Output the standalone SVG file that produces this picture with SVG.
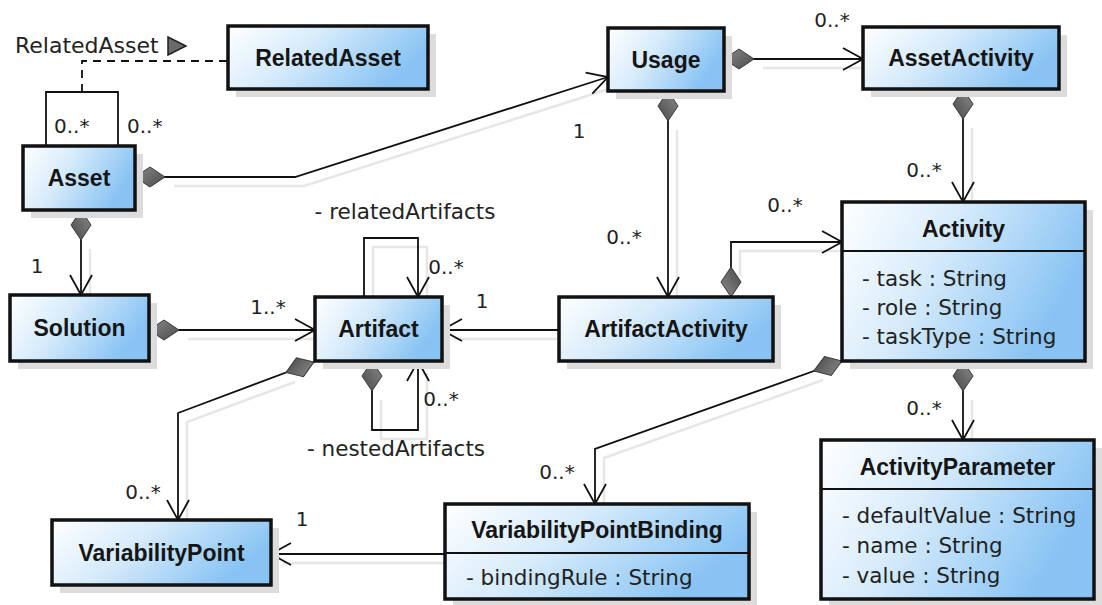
<svg xmlns="http://www.w3.org/2000/svg" width="1102" height="605" viewBox="0 0 1102 605">
<style>
.box{stroke:#111;stroke-width:3.5;fill:url(#bg)}
.shadow{fill:#dcdcdc;stroke:none}
.div{stroke:#111;stroke-width:2}
.title{font-family:"Liberation Sans",Arial,sans-serif;font-weight:bold;font-size:23px;fill:#151515;text-anchor:middle}
.attr{font-family:"DejaVu Sans","Liberation Sans",sans-serif;font-size:21.5px;fill:#222}
.lbl{font-family:"DejaVu Sans","Liberation Sans",sans-serif;font-size:20px;fill:#222}
.mid{text-anchor:middle}
.conn{fill:none;stroke:#111;stroke-width:1.8}
.cshadow{fill:none;stroke:#e6e6e6;stroke-width:2.5}
.dash{stroke-dasharray:8,6}
</style>
<defs>
<linearGradient id="bg" x1="0" y1="0" x2="1" y2="0.35">
<stop offset="0" stop-color="#ffffff"/>
<stop offset="0.45" stop-color="#d6ebfb"/>
<stop offset="1" stop-color="#88c3f3"/>
</linearGradient>
<linearGradient id="dg" x1="0" y1="0" x2="1" y2="1">
<stop offset="0" stop-color="#8a8a8a"/>
<stop offset="1" stop-color="#4a4a4a"/>
</linearGradient>
<marker id="arrow" markerUnits="userSpaceOnUse" markerWidth="26" markerHeight="28" viewBox="-23 -14 26 28" refX="0" refY="0" orient="auto">
<path d="M-20,-11 L0,0 L-20,11" fill="none" stroke="#111" stroke-width="1.8"/>
</marker>
<marker id="diamond" markerUnits="userSpaceOnUse" markerWidth="34" markerHeight="24" viewBox="-2 -12 34 24" refX="0" refY="0" orient="auto">
<path d="M0,0 L15,-10 L30,0 L15,10 Z" fill="url(#dg)" stroke="#3a3a3a" stroke-width="1"/>
</marker>
</defs>
<rect width="1102" height="605" fill="#ffffff"/>

<g id="connector-shadows" transform="translate(9,9)">
<path class="cshadow" d="M165,177 L295,177 L600,80"/>
<path class="cshadow" d="M754,59 L860,59"/>
<path class="cshadow" d="M668,121 L668,294"/>
<path class="cshadow" d="M963,119 L963,199"/>
<path class="cshadow" d="M81,240 L81,292"/>
<path class="cshadow" d="M179,330 L312,330"/>
<path class="cshadow" d="M364,294 L364,238 L418,238 L418,294"/>
<path class="cshadow" d="M372,391 L372,430 L418,430 L418,364"/>
<path class="cshadow" d="M556,330 L445,330"/>
<path class="cshadow" d="M731,267 L731,242 L839,242"/>
<path class="cshadow" d="M963,391 L963,437"/>
<path class="cshadow" d="M286,373 L178,413 L178,517"/>
<path class="cshadow" d="M814,371 L595,449 L595,501"/>
<path class="cshadow" d="M442,554 L274,554"/>
</g>

<g id="connectors">
<path class="conn" d="M46,146 L46,92 L118,92 L118,146"/>
<path class="conn dash" d="M82,92 L82,61 L228,61"/>
<path class="conn" d="M135,177 L295,177 L608,77" marker-start="url(#diamond)" marker-end="url(#arrow)"/>
<path class="conn" d="M724,59 L863,59" marker-start="url(#diamond)" marker-end="url(#arrow)"/>
<path class="conn" d="M668,91 L668,297" marker-start="url(#diamond)" marker-end="url(#arrow)"/>
<path class="conn" d="M963,89 L963,202" marker-start="url(#diamond)" marker-end="url(#arrow)"/>
<path class="conn" d="M81,210 L81,295" marker-start="url(#diamond)" marker-end="url(#arrow)"/>
<path class="conn" d="M149,330 L315,330" marker-start="url(#diamond)" marker-end="url(#arrow)"/>
<path class="conn" d="M364,297 L364,238 L418,238 L418,297" marker-end="url(#arrow)"/>
<path class="conn" d="M372,361 L372,430 L418,430 L418,361" marker-start="url(#diamond)" marker-end="url(#arrow)"/>
<path class="conn" d="M559,330 L442,330" marker-end="url(#arrow)"/>
<path class="conn" d="M731,297 L731,242 L842,242" marker-start="url(#diamond)" marker-end="url(#arrow)"/>
<path class="conn" d="M963,361 L963,440" marker-start="url(#diamond)" marker-end="url(#arrow)"/>
<path class="conn" d="M314,362 L178,413 L178,520" marker-start="url(#diamond)" marker-end="url(#arrow)"/>
<path class="conn" d="M842,361 L595,449 L595,504" marker-start="url(#diamond)" marker-end="url(#arrow)"/>
<path class="conn" d="M445,554 L271,554" marker-end="url(#arrow)"/>
<path d="M168,37 L168,55 L186,46 Z" fill="#6a6a6a" stroke="#222" stroke-width="1.5"/>
</g>

<g id="labels">
<text class="lbl" x="15" y="53" style="font-size:22px">RelatedAsset</text>
<text class="lbl" x="54" y="133">0..*</text>
<text class="lbl" x="127" y="133">0..*</text>
<text class="lbl mid" x="579" y="138">1</text>
<text class="lbl mid" x="832" y="27">0..*</text>
<text class="lbl mid" x="924" y="177">0..*</text>
<text class="lbl mid" x="624" y="244">0..*</text>
<text class="lbl mid" x="785" y="212">0..*</text>
<text class="lbl mid" x="37" y="273">1</text>
<text class="lbl mid" x="268" y="314">1..*</text>
<text class="attr mid" x="405" y="219">- relatedArtifacts</text>
<text class="lbl mid" x="446" y="274">0..*</text>
<text class="lbl mid" x="482" y="308">1</text>
<text class="lbl mid" x="441" y="406">0..*</text>
<text class="attr mid" x="396" y="456">- nestedArtifacts</text>
<text class="lbl mid" x="143" y="499">0..*</text>
<text class="lbl mid" x="302" y="526">1</text>
<text class="lbl mid" x="557" y="479">0..*</text>
<text class="lbl mid" x="924" y="415">0..*</text>
</g>

<g id="RelatedAsset">
<rect class="shadow" x="236" y="34" width="200" height="63"/>
<rect class="box" x="228" y="26" width="200" height="63"/>
<text class="title" x="328" y="66">RelatedAsset</text>
</g>
<g id="Asset">
<rect class="shadow" x="31" y="154" width="112" height="64"/>
<rect class="box" x="23" y="146" width="112" height="64"/>
<text class="title" x="79" y="186">Asset</text>
</g>
<g id="Usage">
<rect class="shadow" x="616" y="36" width="116" height="63"/>
<rect class="box" x="608" y="28" width="116" height="63"/>
<text class="title" x="666" y="68">Usage</text>
</g>
<g id="AssetActivity">
<rect class="shadow" x="871" y="35" width="196" height="62"/>
<rect class="box" x="863" y="27" width="196" height="62"/>
<text class="title" x="961" y="66">AssetActivity</text>
</g>
<g id="Solution">
<rect class="shadow" x="18" y="303" width="139" height="66"/>
<rect class="box" x="10" y="295" width="139" height="66"/>
<text class="title" x="79.5" y="336">Solution</text>
</g>
<g id="Artifact">
<rect class="shadow" x="323" y="305" width="127" height="64"/>
<rect class="box" x="315" y="297" width="127" height="64"/>
<text class="title" x="378.5" y="337">Artifact</text>
</g>
<g id="ArtifactActivity">
<rect class="shadow" x="567" y="305" width="214" height="64"/>
<rect class="box" x="559" y="297" width="214" height="64"/>
<text class="title" x="666" y="337">ArtifactActivity</text>
</g>
<g id="Activity">
<rect class="shadow" x="850" y="210" width="243" height="159"/>
<rect class="box" x="842" y="202" width="243" height="159"/>
<line class="div" x1="842" y1="251" x2="1085" y2="251"/>
<text class="title" x="963.5" y="237">Activity</text>
<text class="attr" x="862" y="286">- task : String</text>
<text class="attr" x="862" y="315">- role : String</text>
<text class="attr" x="862" y="344">- taskType : String</text>
</g>
<g id="VariabilityPoint">
<rect class="shadow" x="60" y="528" width="219" height="65"/>
<rect class="box" x="52" y="520" width="219" height="65"/>
<text class="title" x="161.5" y="561">VariabilityPoint</text>
</g>
<g id="VariabilityPointBinding">
<rect class="shadow" x="453" y="512" width="304" height="93"/>
<rect class="box" x="445" y="504" width="304" height="95"/>
<line class="div" x1="445" y1="553" x2="749" y2="553"/>
<text class="title" x="597" y="538">VariabilityPointBinding</text>
<text class="attr" x="466" y="585">- bindingRule : String</text>
</g>
<g id="ActivityParameter">
<rect class="shadow" x="829" y="448" width="273" height="157"/>
<rect class="box" x="821" y="440" width="273" height="159"/>
<line class="div" x1="821" y1="489" x2="1094" y2="489"/>
<text class="title" x="957.5" y="475">ActivityParameter</text>
<text class="attr" x="842" y="523">- defaultValue : String</text>
<text class="attr" x="842" y="553">- name : String</text>
<text class="attr" x="842" y="583">- value : String</text>
</g>
</svg>
